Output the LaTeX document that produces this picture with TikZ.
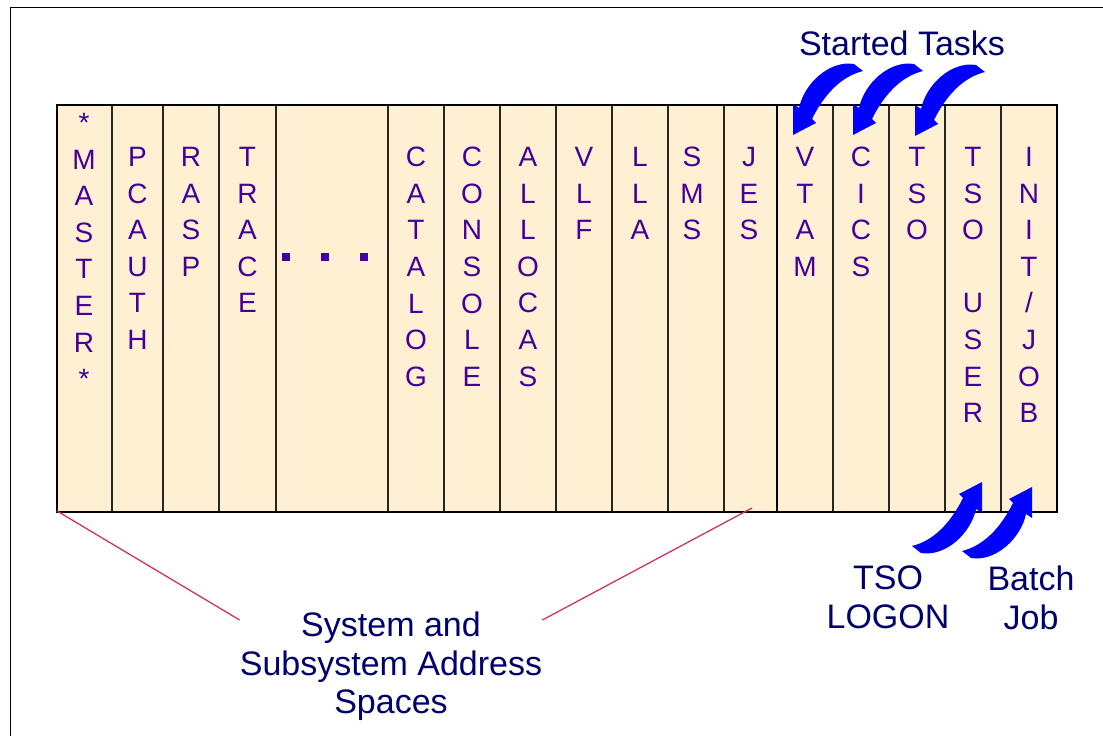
\documentclass[tikz,border=0pt]{standalone}
\usepackage{fontspec}
\setmainfont{Liberation Sans}
\usepackage{xcolor}

\definecolor{asfill}{RGB}{255,240,212}
\definecolor{asletter}{RGB}{68,0,153}
\definecolor{labelblue}{RGB}{0,0,110}
\definecolor{leadred}{RGB}{204,51,102}
\definecolor{arrowblue}{RGB}{0,0,255}

\begin{document}
\begin{tikzpicture}[x=1pt,y=-1pt,
  col/.style={anchor=north, inner sep=0pt, align=center, text=asletter,
    font=\fontsize{28}{36.6}\selectfont},
  tag/.style={inner sep=0pt, align=center, text=labelblue,
    font=\fontsize{34}{38.5}\selectfont},
  divider/.style={line width=1.2pt, draw=black!85},
  lead/.style={draw=leadred, line width=1.3pt},
  bendarrow/.pic={
    \fill[arrowblue] (0,0) -- (0,-31) -- (6,-27)
      .. controls (11,-51) and (36,-75) .. (61,-71)
      -- (70,-64)
      .. controls (54,-60) and (35,-48) .. (19,-16)
      -- (23,-12) -- cycle;
  }
]
  \useasboundingbox (0,0) rectangle (1103,736);
  \draw[line width=1.3pt] (10.5,750) |- (1115,7.5);

  % address space table
  \fill[asfill] (57,105) rectangle (1057,512);
  \foreach \x in {112,163,219,276,388,444,500,556,612,668,724,833,889,945,1001}
    \draw[divider] (\x,105) -- (\x,512);
  \draw[line width=2.6pt] (57,105) rectangle (1057,512);
  \draw[line width=2.4pt] (777,105) -- (777,512);

  \node[col] (master) at (84,113) {*\\M\\A\\S\\T\\E\\R\\*};
  \node[col] (pcauth) at (137.5,147) {P\\C\\A\\U\\T\\H};
  \node[col] (rasp) at (191,147) {R\\A\\S\\P};
  \node[col] (trace) at (247.5,147) {T\\R\\A\\C\\E};
  \foreach \x in {286,325,364}
    \fill[asletter] (\x-4,253) rectangle (\x+4,261);
  \node[col] (catalog) at (416,147) {C\\A\\T\\A\\L\\O\\G};
  \node[col] (console) at (472,147) {C\\O\\N\\S\\O\\L\\E};
  \node[col] (allocas) at (528,147) {A\\L\\L\\O\\C\\A\\S};
  \node[col] (vlf) at (584,147) {V\\L\\F};
  \node[col] (lla) at (640,147) {L\\L\\A};
  \node[col] (sms) at (692,147) {S\\M\\S};
  \node[col] (jes) at (749,147) {J\\E\\S};
  \node[col] (vtam) at (805,147) {V\\T\\A\\M};
  \node[col] (cics) at (861,147) {C\\I\\C\\S};
  \node[col] (tso) at (917,147) {T\\S\\O};
  \node[col] (tsouser) at (973,147) {T\\S\\O\\ \\U\\S\\E\\R};
  \node[col] (initjob) at (1029,147) {I\\N\\I\\T\\/\\J\\O\\B};

  % labels
  \node[tag, anchor=base] (started) at (902,55) {Started Tasks};
  \node[tag, anchor=north] (sys) at (391,612) {System and\\Subsystem Address\\Spaces};
  \node[tag, anchor=north] (logon) at (888,566) {TSO\\LOGON};
  \node[tag, anchor=north] (batch) at (1031,566) {Batch\\Job};

  % started tasks come in from above, logons and jobs from below
  \pic at (793,135) {bendarrow};
  \pic at (853,135) {bendarrow};
  \pic at (915,136) {bendarrow};
  \pic[rotate=180] at (982,482) {bendarrow};
  \pic[rotate=180] at (1032,487) {bendarrow};

  \coordinate (tabSW) at (57,511);
  \coordinate (jesfoot) at (752,508);
  \draw[lead] (tabSW) -- ([yshift=-8pt]sys.north west);
  \draw[lead] (jesfoot) -- ([yshift=-8pt]sys.north east);
\end{tikzpicture}
\end{document}
